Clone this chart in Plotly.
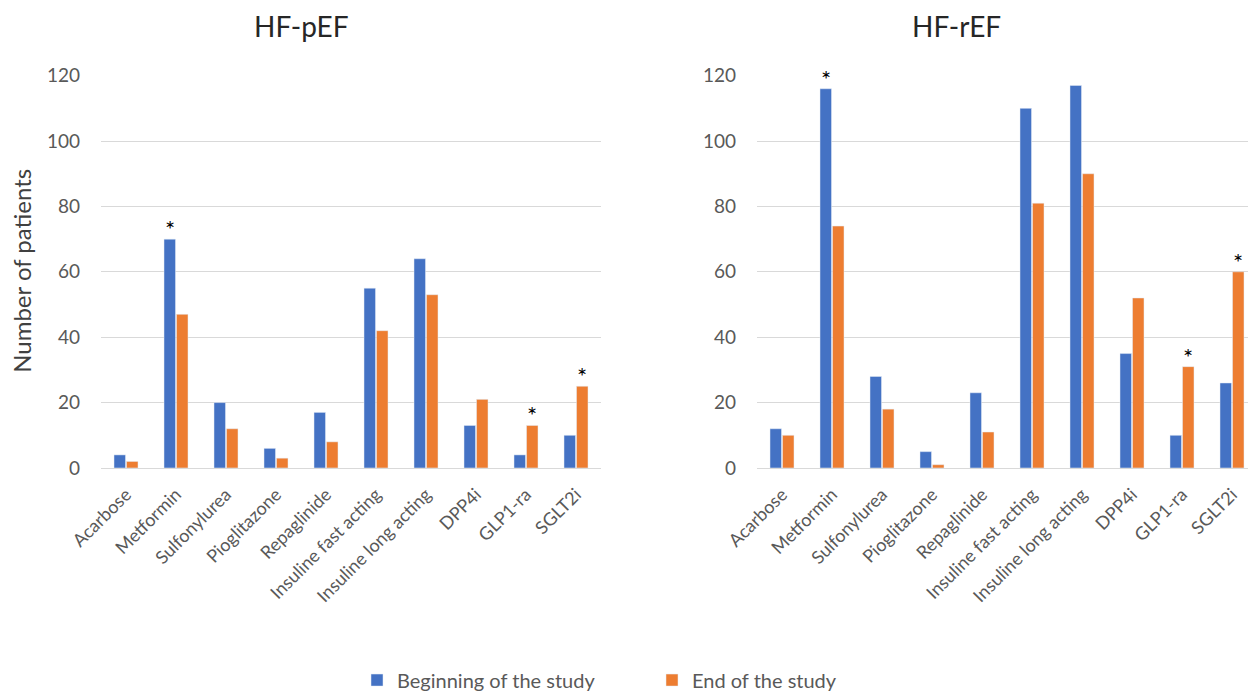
import plotly.graph_objects as go

categories = ["Acarbose", "Metformin", "Sulfonylurea", "Pioglitazone", "Repaglinide",
              "Insuline fast acting", "Insuline long acting", "DPP4i", "GLP1-ra", "SGLT2i"]
pef_begin = [4, 70, 20, 6, 17, 55, 64, 13, 4, 10]
pef_end = [2, 47, 12, 3, 8, 42, 53, 21, 13, 25]
ref_begin = [12, 116, 28, 5, 23, 110, 117, 35, 10, 26]
ref_end = [10, 74, 18, 1, 11, 81, 90, 52, 31, 60]
# significance marks: (category, series)
pef_stars = [("Metformin", "begin"), ("GLP1-ra", "end"), ("SGLT2i", "end")]
ref_stars = [("Metformin", "begin"), ("GLP1-ra", "end"), ("SGLT2i", "end")]
yticks = [0, 20, 40, 60, 80, 100, 120]

BLUE = "#4472C4"
ORANGE = "#ED7D31"
FONT = "Lato"
GREY = "#595959"

fig = go.Figure()
fig.add_trace(go.Bar(x=categories, y=pef_begin, name="Beginning of the study",
                     marker_color=BLUE, xaxis="x", yaxis="y", legendgroup="b"))
fig.add_trace(go.Bar(x=categories, y=pef_end, name="End of the study",
                     marker_color=ORANGE, xaxis="x", yaxis="y", legendgroup="e"))
fig.add_trace(go.Bar(x=categories, y=ref_begin, name="Beginning of the study",
                     marker_color=BLUE, xaxis="x2", yaxis="y2", legendgroup="b", showlegend=False))
fig.add_trace(go.Bar(x=categories, y=ref_end, name="End of the study",
                     marker_color=ORANGE, xaxis="x2", yaxis="y2", legendgroup="e", showlegend=False))

W, H = 1248, 700
ybot, ytop = 470, 76
ydom = [1 - ybot / H, 1 - ytop / H]

axis_common = dict(
    type="category", showgrid=False, showline=True, linecolor="#D9D9D9", linewidth=1,
    ticks="", tickangle=-45, ticklabelstandoff=8,
    tickfont=dict(family=FONT, size=18, color=GREY),
    automargin=False,
)
yaxis_common = dict(
    range=[0, 120], tickvals=yticks, showgrid=True, gridcolor="#D9D9D9", gridwidth=1,
    zeroline=False, showline=False, ticks="", ticklabelstandoff=20,
    tickfont=dict(family=FONT, size=19, color=GREY), automargin=False, domain=ydom,
)

# right panel is cut by the page edge: keep the same category spacing (50 px)
right_px = W - 757
fig.update_layout(
    width=W, height=H,
    margin=dict(l=0, r=0, t=0, b=0),
    paper_bgcolor="white", plot_bgcolor="white",
    barmode="group", bargap=0.5, bargroupgap=0.08,
    font=dict(family=FONT, color=GREY),
    xaxis=dict(domain=[101 / W, 601 / W], anchor="y", range=[-0.5, 9.5], **axis_common),
    xaxis2=dict(domain=[757 / W, 1.0], anchor="y2", range=[-0.5, -0.5 + right_px / 50], **axis_common),
    yaxis=dict(anchor="x", **yaxis_common),
    yaxis2=dict(anchor="x2", **yaxis_common),
    legend=dict(orientation="h", x=357 / W, xanchor="left", y=1 - 683 / H, yanchor="middle",
                entrywidth=250, entrywidthmode="pixels",
                font=dict(family=FONT, size=20, color=GREY), itemclick=False),
)

annotations = [
    dict(text="HF-pEF", x=301 / W, y=1 - 26 / H, xref="paper", yref="paper",
         xanchor="center", yanchor="middle",
         showarrow=False, font=dict(family=FONT, size=28, color="#262626")),
    dict(text="HF-rEF", x=956 / W, y=1 - 26 / H, xref="paper", yref="paper",
         xanchor="center", yanchor="middle",
         showarrow=False, font=dict(family=FONT, size=28, color="#262626")),
    dict(text="Number of patients", x=22 / W, y=1 - 272 / H, xref="paper", yref="paper",
         xanchor="center", yanchor="middle",
         textangle=-90, showarrow=False, font=dict(family=FONT, size=24, color="#404040")),
]
for stars, beg, end, xr, yr in [(pef_stars, pef_begin, pef_end, "x", "y"),
                                (ref_stars, ref_begin, ref_end, "x2", "y2")]:
    for cat, ser in stars:
        i = categories.index(cat)
        val = beg[i] if ser == "begin" else end[i]
        annotations.append(dict(text="*", x=cat, y=val, xref=xr, yref=yr, showarrow=False,
                                xshift=-6 if ser == "begin" else 6, yanchor="bottom", yshift=-6,
                                font=dict(family=FONT, size=24, color="black")))
fig.update_layout(annotations=annotations)

fig.write_html("out.html", config={"displayModeBar": False},
               post_script="document.body.style.margin='0px';")
